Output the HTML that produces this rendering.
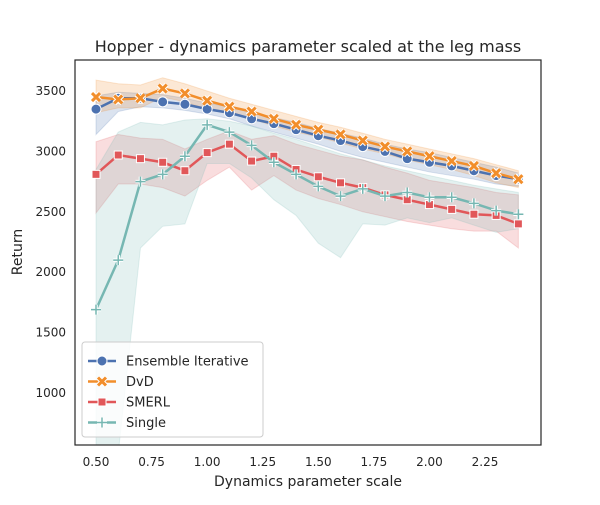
<!DOCTYPE html>
<html><head><meta charset="utf-8"><style>
body{margin:0;background:#fff;font-family:"Liberation Sans","DejaVu Sans",sans-serif;}
svg text{font-family:"DejaVu Sans","Liberation Sans",sans-serif;fill:#262626;}
</style></head><body>
<svg id="c" width="600" height="500" xmlns="http://www.w3.org/2000/svg">
<defs><clipPath id="clip"><rect x="75" y="60" width="466" height="385"/></clipPath></defs>
<rect width="600" height="500" fill="#fff"/>
<text x="308" y="52" font-size="16" text-anchor="middle">Hopper - dynamics parameter scaled at the leg mass</text>
<text x="308" y="486" font-size="14" text-anchor="middle">Dynamics parameter scale</text>
<text x="22" y="252" font-size="14" text-anchor="middle" transform="rotate(-90 22 252)">Return</text>
<g id="bands" clip-path="url(#clip)"></g>
<g id="lines" clip-path="url(#clip)"></g>
<g id="ticks"></g>
<rect x="75" y="60" width="466" height="385" fill="none" stroke="#262626" stroke-width="1.2"/>
<g id="legend"></g>
</svg>
<script>
const xs=[0.5,0.6,0.7,0.8,0.9,1.0,1.1,1.2,1.3,1.4,1.5,1.6,1.7,1.8,1.9,2.0,2.1,2.2,2.3,2.4];
const ensemble=[3350,3440,3440,3410,3390,3350,3320,3270,3230,3180,3130,3090,3040,3000,2940,2910,2880,2840,2800,2770];
const ensembleLo=[3140,3330,3370,3360,3340,3310,3270,3210,3160,3110,3060,3000,2950,2910,2870,2830,2800,2770,2730,2710];
const ensembleHi=[3460,3490,3480,3470,3440,3400,3370,3320,3280,3240,3190,3150,3110,3060,3020,2990,2950,2910,2870,2820];
const dvd=[3450,3430,3440,3520,3480,3420,3370,3330,3270,3220,3180,3140,3090,3040,3000,2960,2920,2880,2820,2770];
const dvdLo=[3320,3360,3360,3450,3410,3350,3310,3270,3210,3160,3120,3070,3020,2980,2930,2890,2850,2800,2740,2700];
const dvdHi=[3590,3560,3550,3610,3560,3500,3440,3390,3340,3290,3240,3200,3150,3100,3060,3020,2980,2940,2890,2840];
const smerl=[2810,2970,2940,2910,2840,2990,3060,2920,2960,2850,2790,2740,2700,2640,2600,2560,2520,2480,2470,2400];
const smerlLo=[2490,2730,2730,2700,2630,2760,2870,2680,2800,2680,2610,2560,2500,2460,2420,2390,2360,2340,2340,2200];
const smerlHi=[3080,3140,3110,3100,3020,3100,3170,3100,3130,3060,3010,2960,2930,2870,2820,2760,2730,2700,2660,2640];
const single=[1690,2100,2750,2810,2960,3220,3160,3050,2910,2810,2710,2630,2690,2630,2660,2620,2620,2570,2510,2480];
const singleLo=[500,500,2200,2380,2400,2900,2900,2780,2600,2470,2240,2120,2400,2390,2450,2410,2450,2390,2330,2360];
const singleHi=[2850,3160,3240,3220,3260,3270,3250,3210,3150,3100,3040,2980,2930,2880,2840,2800,2760,2720,2690,2660];
const xTicks=[0.5,0.75,1.0,1.25,1.5,1.75,2.0,2.25];
const xTickLabels=["0.50","0.75","1.00","1.25","1.50","1.75","2.00","2.25"];
const yTicks=[1000,1500,2000,2500,3000,3500];
const seriesNames=["Ensemble Iterative","DvD","SMERL","Single"];
const colors=["#4c72b0","#f28e2b","#e15759","#76b7b2"];
const NS="http://www.w3.org/2000/svg";
function X(v){return 96+(v-0.5)*222.3;}
function Y(v){return 91+(3500-v)*0.1208;}
function mk(p,t,a){const e=document.createElementNS(NS,t);for(const k in a)e.setAttribute(k,a[k]);p.appendChild(e);return e;}
const bands=document.getElementById('bands'),lines=document.getElementById('lines'),ticks=document.getElementById('ticks'),legend=document.getElementById('legend');
const S=[[ensemble,ensembleLo,ensembleHi],[dvd,dvdLo,dvdHi],[smerl,smerlLo,smerlHi],[single,singleLo,singleHi]];
const keys=['ensemble','dvd','smerl','single'];
S.forEach((s,i)=>{
 let d=xs.map((x,j)=>(j?'L':'M')+X(x)+','+Y(s[2][j])).join('');
 for(let j=xs.length-1;j>=0;j--)d+='L'+X(xs[j])+','+Y(s[1][j]);
 const b=mk(bands,'path',{d:d+'Z',fill:colors[i],'fill-opacity':0.2,stroke:colors[i],'stroke-opacity':0.2});
 
 
});
function marker(g,i,x,y){
 let e;
 if(i===0)e=mk(g,'circle',{cx:x,cy:y,r:5,fill:colors[0],stroke:'#fff','stroke-width':1});
 else if(i===1){e=mk(g,'path',{d:`M${x-4},${y-4}L${x+4},${y+4}M${x+4},${y-4}L${x-4},${y+4}`,stroke:'#fff','stroke-width':5});mk(g,'path',{d:`M${x-4},${y-4}L${x+4},${y+4}M${x+4},${y-4}L${x-4},${y+4}`,stroke:colors[1],'stroke-width':3});}
 else if(i===2)e=mk(g,'rect',{x:x-4,y:y-4,width:8,height:8,fill:colors[2],stroke:'#fff','stroke-width':1});
 else{e=mk(g,'path',{d:`M${x-5},${y}L${x+5},${y}M${x},${y-5}L${x},${y+5}`,stroke:'#fff','stroke-width':3.5});mk(g,'path',{d:`M${x-5},${y}L${x+5},${y}M${x},${y-5}L${x},${y+5}`,stroke:colors[3],'stroke-width':1.5});}
 return e;
}
S.forEach((s,i)=>{
 const l=mk(lines,'path',{d:xs.map((x,j)=>(j?'L':'M')+X(x)+','+Y(s[0][j])).join(''),fill:'none',stroke:colors[i],'stroke-width':2.5});
 
 
 xs.forEach((x,j)=>{const g=mk(lines,'g',{});
  
  
  marker(g,i,X(x),Y(s[0][j]));});
});
xTicks.forEach((t,i)=>{const e=mk(ticks,'text',{x:X(t),y:466,'font-size':12,'text-anchor':'middle'});e.textContent=xTickLabels[i];
 
 });
yTicks.forEach(t=>{const e=mk(ticks,'text',{x:66,y:Y(t)+4,'font-size':12,'text-anchor':'end'});e.textContent=t;
 
 });
const lb=mk(legend,'rect',{x:82,y:342,width:181,height:95,rx:3,fill:'#fff','fill-opacity':0.8,stroke:'#ccc'});


seriesNames.forEach((n,i)=>{const y=361+i*20.5;const g=mk(legend,'g',{});
 
 
 mk(g,'line',{x1:88,x2:116,y1:y,y2:y,stroke:colors[i],'stroke-width':2.5});
 marker(g,i,102,y);
 const t=mk(g,'text',{x:126,y:y+4.5,'font-size':13});t.textContent=n;});
</script>
</body></html>
